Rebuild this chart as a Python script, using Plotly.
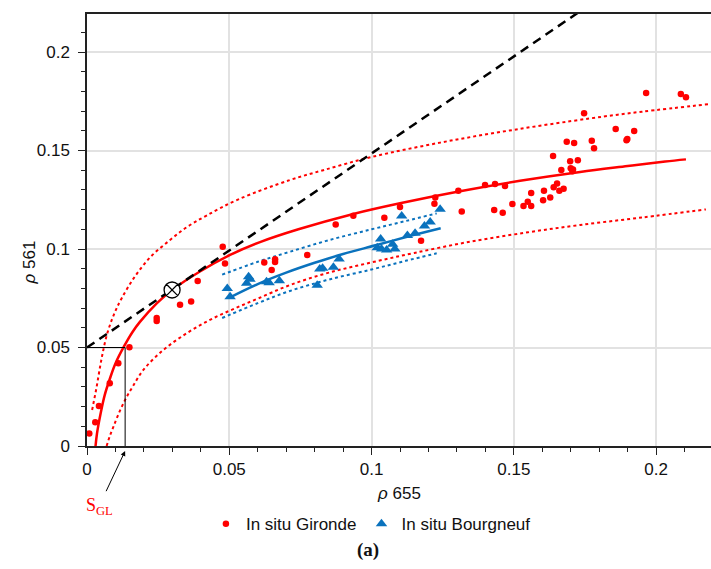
import plotly.graph_objects as go

# ---------------- data ----------------
gironde_x = [0.0008, 0.0029, 0.0042, 0.0080, 0.0110, 0.0149, 0.0245, 0.0245, 0.0327, 0.0366,
             0.0389, 0.0477, 0.0485, 0.0623, 0.0649, 0.0661, 0.0661, 0.0774, 0.0874, 0.0936,
             0.1045, 0.1100, 0.1174, 0.1221, 0.1224, 0.1305, 0.1317, 0.1399, 0.1431, 0.1434,
             0.1461, 0.1469, 0.1495, 0.1534, 0.1549, 0.1561, 0.1561, 0.1603, 0.1606, 0.1628,
             0.1638, 0.1640, 0.1652, 0.1660, 0.1667, 0.1675, 0.1686, 0.1698, 0.1700, 0.1708,
             0.1706, 0.1712, 0.1725, 0.1747, 0.1774, 0.1782, 0.1858, 0.1896, 0.1899, 0.1923,
             0.1965, 0.2087, 0.2105]
gironde_y = [0.0064, 0.0120, 0.0203, 0.0318, 0.0420, 0.0501, 0.0635, 0.0650, 0.0717, 0.0733,
             0.0838, 0.1012, 0.0927, 0.0932, 0.0893, 0.0948, 0.0934, 0.0970, 0.1125, 0.1169,
             0.1159, 0.1213, 0.1042, 0.1230, 0.1262, 0.1296, 0.1191, 0.1325, 0.1198, 0.1330,
             0.1184, 0.1320, 0.1228, 0.1218, 0.1240, 0.1218, 0.1284, 0.1247, 0.1296, 0.1262,
             0.1472, 0.1313, 0.1332, 0.1296, 0.1401, 0.1306, 0.1545, 0.1445, 0.1410, 0.1404,
             0.1395, 0.1538, 0.1450, 0.1689, 0.1550, 0.1511, 0.1609, 0.1552, 0.1558, 0.1599,
             0.1792, 0.1787, 0.1770]

bourgneuf_x = [0.0493, 0.0503, 0.0561, 0.0568, 0.0573, 0.0631, 0.0640, 0.0676, 0.0809, 0.0818,
               0.0828, 0.0866, 0.0886, 0.1020, 0.1032, 0.1035, 0.1053, 0.1074, 0.1082, 0.1106,
               0.1126, 0.1153, 0.1186, 0.1206, 0.1241]
bourgneuf_y = [0.0799, 0.0758, 0.0826, 0.0859, 0.0846, 0.0834, 0.0829, 0.0839, 0.0816, 0.0899,
               0.0902, 0.0908, 0.0949, 0.1007, 0.1051, 0.1000, 0.0995, 0.1024, 0.1000, 0.1168,
               0.1068, 0.1080, 0.1117, 0.1137, 0.1202]

# Gironde fit curve and its bounds
fit_g_x = [0.0030, 0.0035, 0.0048, 0.0062, 0.0080, 0.0100, 0.0131, 0.0160, 0.0186, 0.0245,
           0.0299, 0.0397, 0.0503, 0.0608, 0.0743, 0.0936, 0.1100, 0.1311, 0.1522, 0.1733,
           0.1900, 0.2032, 0.2105]
fit_g_y = [0.0000, 0.0062, 0.0166, 0.0257, 0.0340, 0.0419, 0.0508, 0.0579, 0.0630, 0.0724,
           0.0792, 0.0886, 0.0970, 0.1035, 0.1100, 0.1178, 0.1232, 0.1293, 0.1346, 0.1391,
           0.1421, 0.1444, 0.1455]
upper_g_x = [0.0018, 0.0034, 0.0046, 0.0055, 0.0069, 0.0087, 0.0104, 0.0122, 0.0162, 0.0220,
             0.0292, 0.0350, 0.0420, 0.0532, 0.0713, 0.0830, 0.1000, 0.1241, 0.1500, 0.1768,
             0.1950, 0.2190]
upper_g_y = [0.0183, 0.0301, 0.0403, 0.0471, 0.0560, 0.0640, 0.0699, 0.0750, 0.0847, 0.0955,
             0.1046, 0.1110, 0.1170, 0.1252, 0.1350, 0.1400, 0.1467, 0.1540, 0.1605, 0.1663,
             0.1697, 0.1736]
lower_g_x = [0.0069, 0.0080, 0.0093, 0.0110, 0.0134, 0.0160, 0.0198, 0.0268, 0.0350, 0.0432,
             0.0514, 0.0600, 0.0713, 0.0850, 0.1000, 0.1150, 0.1346, 0.1550, 0.1733, 0.1950,
             0.2175]
lower_g_y = [0.0000, 0.0050, 0.0098, 0.0160, 0.0234, 0.0300, 0.0386, 0.0487, 0.0572, 0.0640,
             0.0695, 0.0748, 0.0817, 0.0880, 0.0932, 0.0980, 0.1037, 0.1085, 0.1122, 0.1160,
             0.1201]

# Bourgneuf fit curve and its bounds
fit_b_x = [0.0503, 0.0600, 0.0700, 0.0800, 0.0900, 0.1018, 0.1125, 0.1243]
fit_b_y = [0.0755, 0.0822, 0.0880, 0.0930, 0.0975, 0.1020, 0.1062, 0.1105]
upper_b_x = [0.0475, 0.0600, 0.0713, 0.0850, 0.1000, 0.1120, 0.1229]
upper_b_y = [0.0870, 0.0935, 0.0986, 0.1045, 0.1100, 0.1142, 0.1181]
lower_b_x = [0.0475, 0.0600, 0.0713, 0.0850, 0.1000, 0.1120, 0.1229]
lower_b_y = [0.0650, 0.0725, 0.0787, 0.0845, 0.0896, 0.0940, 0.0978]

# dashed black line and special points
dash_x = [0.0, 0.2000]
dash_y = [0.0500, 0.2470]
cross_x = [0.0299]
cross_y = [0.0792]
sgl_x = 0.0134
sgl_y = 0.05

tick_vals = [0, 0.05, 0.1, 0.15, 0.2]
tick_text = ["0", "0.05", "0.1", "0.15", "0.2"]

RED = "#ff0000"
BLUE = "#0a72bd"
FONT = "Liberation Sans, Arial, sans-serif"

fig = go.Figure()

# bounds (dotted)
for xs, ys, col in [(upper_g_x, upper_g_y, RED), (lower_g_x, lower_g_y, RED),
                    (upper_b_x, upper_b_y, BLUE), (lower_b_x, lower_b_y, BLUE)]:
    fig.add_trace(go.Scatter(x=xs, y=ys, mode="lines", showlegend=False, hoverinfo="skip",
                             line=dict(color=col, width=2, dash="dot", shape="spline")))

# fits
fig.add_trace(go.Scatter(x=fit_g_x, y=fit_g_y, mode="lines", showlegend=False,
                         line=dict(color=RED, width=2.5, shape="spline")))
fig.add_trace(go.Scatter(x=fit_b_x, y=fit_b_y, mode="lines", showlegend=False,
                         line=dict(color=BLUE, width=2.5, shape="spline")))

# S_GL guide lines
fig.add_trace(go.Scatter(x=[0, sgl_x, sgl_x], y=[sgl_y, sgl_y, 0], mode="lines",
                         showlegend=False, line=dict(color="black", width=1)))

# dashed line
fig.add_trace(go.Scatter(x=dash_x, y=dash_y, mode="lines", showlegend=False,
                         line=dict(color="black", width=2.5, dash="9px,6px")))

# points
fig.add_trace(go.Scatter(x=gironde_x, y=gironde_y, mode="markers", name="In situ Gironde",
                         marker=dict(symbol="circle", size=6.5, color=RED)))
fig.add_trace(go.Scatter(x=bourgneuf_x, y=bourgneuf_y, mode="markers", name="In situ Bourgneuf",
                         marker=dict(symbol="triangle-up", size=10, color=BLUE)))

# crossed circle
fig.add_trace(go.Scatter(x=cross_x, y=cross_y, mode="markers", showlegend=False,
                         marker=dict(symbol="circle-x", size=16, color="white",
                                     line=dict(color="black", width=1.3))))

axis_common = dict(
    showline=True, linecolor="#222", linewidth=1.5,
    ticks="outside", ticklen=7, tickwidth=1.3, tickcolor="#222",
    showgrid=True, gridcolor="#e2e2e2", gridwidth=1.5,
    zeroline=False, tickmode="array", tickvals=tick_vals, ticktext=tick_text,
    tickfont=dict(family=FONT, size=17, color="#111"),
    minor=dict(tickmode="linear", tick0=0, dtick=0.01, ticks="outside", ticklen=4,
               tickwidth=1.2, tickcolor="#222", showgrid=False),
)

X_MAX = 0.2193
Y_MAX = 0.2193
fig.update_xaxes(range=[0, X_MAX], mirror=True, **axis_common)
fig.update_yaxes(range=[0, Y_MAX], mirror=False, ticklabelstandoff=5, **axis_common)

fig.update_layout(
    width=711, height=569,
    margin=dict(l=87, r=0, t=14, b=123),
    paper_bgcolor="white", plot_bgcolor="white",
    font=dict(family=FONT, size=17, color="#111"),
    legend=dict(orientation="h", x=0.455, xanchor="center", y=-0.181, yanchor="middle",
                font=dict(family=FONT, size=17, color="#111"), itemwidth=30,
                bgcolor="rgba(0,0,0,0)"),
    annotations=[
        dict(text="<i>ρ</i> 655", xref="paper", yref="paper", x=0.5, y=-0.111,
             showarrow=False, font=dict(family=FONT, size=17, color="#111"),
             xanchor="center", yanchor="middle"),
        dict(text="<i>ρ</i> 561", xref="paper", yref="paper", x=-0.092, y=0.424,
             showarrow=False, textangle=-90, font=dict(family=FONT, size=17, color="#111"),
             xanchor="center", yanchor="middle"),
        dict(text="S<sub>GL</sub>", xref="paper", yref="paper",
             x=sgl_x / X_MAX, y=-0.0116,
             ax=-26, ay=55, showarrow=True, arrowhead=2, arrowsize=1, arrowwidth=1,
             arrowcolor="black", standoff=0, startstandoff=2,
             font=dict(family="Liberation Serif, Times New Roman, serif", size=18, color=RED)),
        dict(text="<b>(a)</b>", xref="paper", yref="paper", x=(368 - 87) / 624,
             y=(446 - 550) / 432, showarrow=False, xanchor="center", yanchor="middle",
             font=dict(family="Liberation Serif, Times New Roman, serif", size=19, color="#111")),
    ],
)

fig.write_html(
    "out.html",
    config={"displayModeBar": False},
    post_script="document.body.style.margin='0px';document.body.style.overflow='hidden';",
)
